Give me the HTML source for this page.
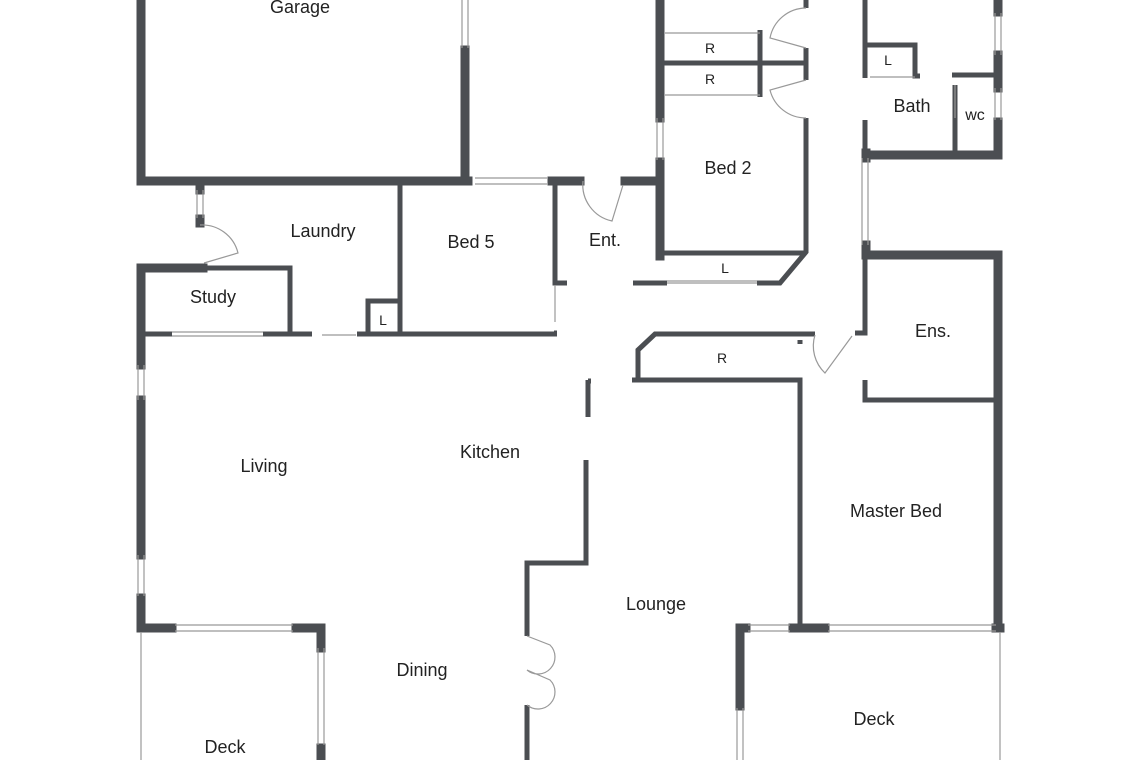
<!DOCTYPE html>
<html><head><meta charset="utf-8"><style>
html,body{margin:0;padding:0;background:#fff;width:1140px;height:760px;overflow:hidden}
text{font-family:"Liberation Sans",sans-serif;fill:#222;text-anchor:middle}
</style></head><body>
<svg width="1140" height="760" viewBox="0 0 1140 760" xmlns="http://www.w3.org/2000/svg">
<g stroke="#4b4e52" stroke-width="9" fill="none" stroke-linecap="square">
<!-- garage -->
<path d="M141 0V181H198"/>
<path d="M200 181H468"/>
<path d="M465 50V181"/>
<!-- laundry left stubs -->
<path d="M200 184V190M200 219V223"/>
<!-- study / living left -->
<path d="M141 268H203"/>
<path d="M141 268V365M141 400V555M141 598V628H172"/>
<!-- bottom left -->
<path d="M296 628H321V648M321 748V760"/>
<!-- ent top -->
<path d="M552 181H580M625 181H658"/>
<!-- bed2 left -->
<path d="M660 0V118M660 162V256"/>
<!-- exterior right -->
<path d="M998 0V12M998 55V88M998 122V155H866"/>
<path d="M866 153V158M866 245V255H998V628"/>
<path d="M740 628V706"/>
<path d="M740 628H746M793 628H825M996 628H1000"/>
</g>
<g stroke="#4b4e52" stroke-width="5" fill="none">
<path d="M200 268H290V335"/>
<path d="M141 334H172M263 334H312M357 334H557"/>
<path d="M400 181V335"/>
<path d="M368 335V301H400"/>
<path d="M555 181V283H567M554 333H557"/>
<path d="M663 63H808M760 30V97"/>
<path d="M806 0V8M806 48V80M806 118V252L780 283H757M667 283H633M660 253H806"/>
<path d="M865 0V78M865 45H915V76H920M865 120V155"/>
<path d="M952 75H1000M955 85V153"/>
<path d="M865 255V333H855M865 380V400H998"/>
<path d="M815 334H655L638 350V380M632 380H800V632M800 340V344"/>
<path d="M588 381H591M588 380V417M586 460V563H527V636M527 705V760"/>
</g>
<g stroke="#999" stroke-width="1.2" fill="none">
<path d="M462 0V48M468 0V48"/>
<path d="M197 190V218M203 190V218"/>
<path d="M138 365V400M144 365V400M138 555V596M144 555V596"/>
<path d="M172 332H263M172 336H263M322 335H356"/>
<path d="M475 178H547M475 184H547"/>
<path d="M555 285V322"/>
<path d="M657 118V160M663 118V160"/>
<path d="M665 33H760M665 95H760M667 283H757M667 281H757"/>
<path d="M995 13V55M1001 13V55M995 88V120M1001 88V120"/>
<path d="M862 158V245M868 158V245"/>
<path d="M915 77H870M955 85V118"/>
<path d="M175 625H293M175 631H293M318 648V745M324 648V745"/>
<path d="M141 632V760M1000 632V760"/>
<path d="M748 625H790M748 631H790M828 625H945M828 631H945M945 625H996M945 631H996"/>
<path d="M737 708V760M743 708V760"/>
<!-- doors -->
<path d="M200 225A37 37 0 0 1 238 253L204 263"/>
<path d="M583 181A37 37 0 0 0 612 221L623 185"/>
<path d="M806 8A37 37 0 0 0 770 38L806 48"/>
<path d="M806 118A37 37 0 0 1 770 90L806 80"/>
<path d="M815 335A37 37 0 0 0 825 373L852 336"/>
<path d="M527 636L550 645A17 17 0 0 1 527 670L550 680A17 17 0 0 1 527 705"/>
</g>
<g font-size="18">
<text x="300" y="13">Garage</text>
<text x="323" y="237">Laundry</text>
<text x="471" y="248">Bed 5</text>
<text x="213" y="303">Study</text>
<text x="605" y="246">Ent.</text>
<text x="728" y="174">Bed 2</text>
<text x="912" y="112">Bath</text>
<text x="933" y="337">Ens.</text>
<text x="264" y="472">Living</text>
<text x="490" y="458">Kitchen</text>
<text x="896" y="517">Master Bed</text>
<text x="656" y="610">Lounge</text>
<text x="422" y="676">Dining</text>
<text x="874" y="725">Deck</text>
<text x="225" y="753">Deck</text>
</g>
<g font-size="14">
<text x="710" y="53">R</text>
<text x="710" y="84">R</text>
<text x="722" y="363">R</text>
<text x="725" y="273">L</text>
<text x="888" y="65">L</text>
<text x="383" y="325">L</text>
<text x="975" y="120" font-size="16">wc</text>
</g>
</svg>
</body></html>
